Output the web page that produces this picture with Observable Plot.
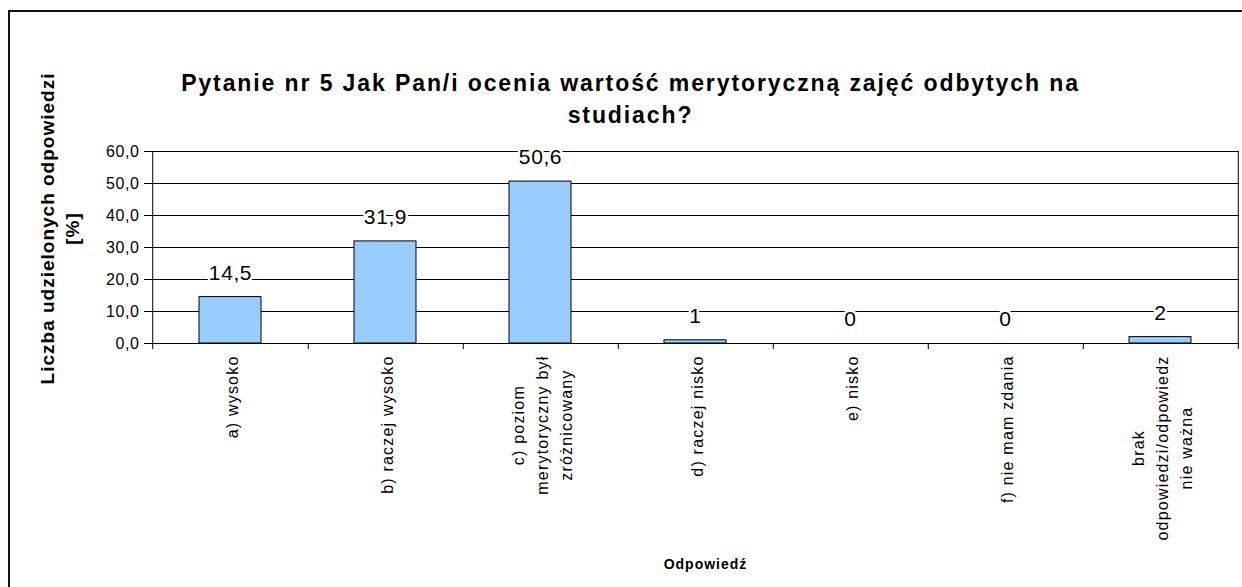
<!DOCTYPE html>
<html>
<head>
<meta charset="utf-8">
<script src="https://cdn.jsdelivr.net/npm/d3@7"></script>
<script src="https://cdn.jsdelivr.net/npm/@observablehq/plot@0.6"></script>
<style>
  html, body { margin: 0; padding: 0; background: #fff; }
  #wrap { position: relative; width: 1242px; height: 587px; overflow: hidden; }
  #border { position: absolute; left: 8px; top: 10px; width: 1240px; height: 580px; border: 2px solid #111; box-sizing: border-box; pointer-events: none; }
  svg { position: absolute; left: 0; top: 0; }
</style>
</head>
<body>
<div id="wrap"><div id="chart"></div><div id="border"></div></div>
<script>
const titleText = "Pytanie nr 5 Jak Pan/i ocenia wartość merytoryczną zajęć odbytych na\nstudiach?";
const yTitle = "Liczba udzielonych odpowiedzi\n[%]";
const xTitle = "Odpowiedź";
const categories = ["a", "b", "c", "d", "e", "f", "g"];
const categoryLabels = [
  "a) wysoko",
  "b) raczej wysoko",
  "c) poziom\nmerytoryczny był\nzróżnicowany",
  "d) raczej nisko",
  "e) nisko",
  "f) nie mam zdania",
  "brak\nodpowiedzi/odpowiedz\nnie ważna"
];
const values = [14.5, 31.9, 50.6, 1, 0, 0, 2];
const yTicks = [0, 10, 20, 30, 40, 50, 60];

const data = categories.map((c, i) => ({cat: c, label: categoryLabels[i], value: values[i]}));
const fmtVal = v => Number.isInteger(v) ? String(v) : v.toFixed(1).replace(".", ",");
const fmtTick = v => v.toFixed(1).replace(".", ",");

const W = 1242, H = 587;
const mL = 150, mR = 3, mT = 151, mB = 244;
const step = (W - mL - mR) / categories.length;
const frameH = H - mT - mB;
const frameCX = mL + (W - mL - mR) / 2;
const FONT = "'Liberation Sans', Arial, sans-serif";

// letter spacing per text role
const LS = {tick: 0.6, value: 0.6, cat: 1.2, title: 1.9, ytitle: 1.0, xtitle: 1};

const catFont = 16;
const ctx = document.createElement("canvas").getContext("2d");
ctx.font = `${catFont}px ${FONT}`;
const catWidth = lbl => Math.max(...lbl.split("\n").map(s => ctx.measureText(s).width + LS.cat * s.length));

const catMarks = data.map(d => Plot.text([d], {
  x: "cat", text: "label", frameAnchor: "bottom", rotate: -90,
  textAnchor: "middle", lineAnchor: "middle", lineHeight: 1.5,
  dy: 12 + catWidth(d.label) / 2, fontSize: catFont, fill: "#000"
}));

const chart = Plot.plot({
  width: W, height: H,
  marginLeft: mL, marginRight: mR, marginTop: mT, marginBottom: mB,
  style: {fontFamily: FONT, background: "transparent", color: "#000"},
  x: {domain: categories, paddingInner: 0.6, paddingOuter: 0.3, axis: null},
  y: {domain: [0, 60], axis: null},
  marks: [
    Plot.ruleY(yTicks, {stroke: "#000", strokeWidth: 1}),
    Plot.barY(data, {x: "cat", y: "value", fill: "#99CCFF", stroke: "#000", strokeWidth: 1}),
    Plot.ruleX([categories[0]], {x: d => d, dx: -step / 2, insetBottom: -6, stroke: "#000"}),
    Plot.ruleX(categories.slice(0, -1), {x: d => d, dx: step / 2, insetTop: frameH, insetBottom: -6, stroke: "#000"}),
    Plot.ruleX([categories[categories.length - 1]], {x: d => d, dx: step / 2, insetBottom: -6, stroke: "#000"}),
    Plot.axisY({ticks: yTicks, tickFormat: fmtTick, tickSize: 6, tickPadding: 5, fontSize: 16, label: null, stroke: "#000"}),
    Plot.text(data, {x: "cat", y: "value", text: d => fmtVal(d.value), dy: -24, fontSize: 21,
      fill: "#000", stroke: "#fff", strokeWidth: 5}),
    ...catMarks,
    Plot.text([titleText], {frameAnchor: "top", textAnchor: "middle", dx: 630 - frameCX, dy: -55,
      lineAnchor: "middle", lineHeight: 1.4, fontSize: 23, fontWeight: "bold", fill: "#000"}),
    Plot.text([yTitle], {frameAnchor: "left", rotate: -90, textAnchor: "middle", dx: -92, dy: -19,
      lineAnchor: "middle", lineHeight: 1.3, fontSize: 19, fontWeight: "bold", fill: "#000"}),
    Plot.text([xTitle], {frameAnchor: "bottom", textAnchor: "middle", dx: 705 - frameCX, dy: 225,
      fontSize: 14, fontWeight: "bold", fill: "#000"})
  ]
});

// apply letter spacing by matching text content to its role
const roles = new Map();
yTicks.forEach(v => roles.set(fmtTick(v), LS.tick));
values.forEach(v => roles.set(fmtVal(v), LS.value));
categoryLabels.forEach(l => roles.set(l.replace(/\n/g, ""), LS.cat));
roles.set(titleText.replace(/\n/g, ""), LS.title);
roles.set(yTitle.replace(/\n/g, ""), LS.ytitle);
roles.set(xTitle, LS.xtitle);
d3.select(chart).selectAll("text").each(function () {
  const ls = roles.get(this.textContent);
  if (ls != null) this.style.letterSpacing = ls + "px";
});
document.getElementById("chart").appendChild(chart);
</script>
</body>
</html>
